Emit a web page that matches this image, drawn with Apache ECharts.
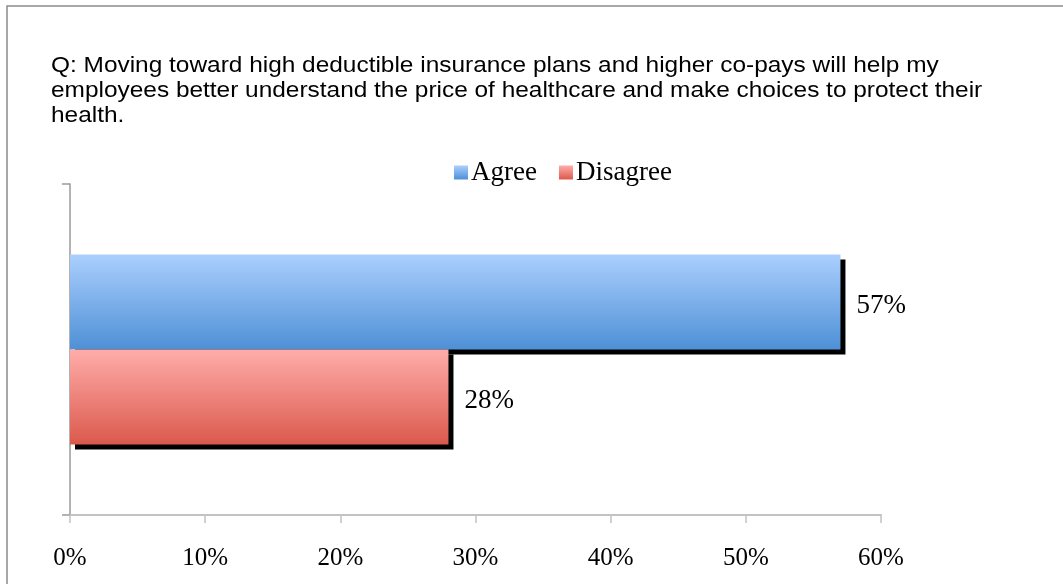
<!DOCTYPE html>
<html>
<head>
<meta charset="utf-8">
<style>
  html, body { margin: 0; padding: 0; background: #ffffff; }
  #chart { width: 1063px; height: 584px; }
</style>
<script src="https://cdn.jsdelivr.net/npm/echarts@6/dist/echarts.min.js"></script>
</head>
<body>
<div id="chart"></div>
<script>
// Survey question and answers
const questionText = 'Q: Moving toward high deductible insurance plans and higher co-pays will help my\nemployees better understand the price of healthcare and make choices to protect their\nhealth.';
const categories = ['Response'];
const seriesNames = ['Agree', 'Disagree'];
const agreeValues = [57];
const disagreeValues = [28];
const tickMax = 60;
const tickStep = 10;

const serifFont = '"Liberation Serif", "DejaVu Serif", serif';

function vGradient(top, bottom) {
  return new echarts.graphic.LinearGradient(0, 0, 0, 1, [
    { offset: 0, color: top },
    { offset: 1, color: bottom }
  ]);
}

const barLabel = {
  show: true,
  position: 'right',
  distance: 16,
  offset: [0, 4],
  formatter: '{c}%',
  color: '#000000',
  fontFamily: serifFont,
  fontSize: 27
};

const chart = echarts.init(document.getElementById('chart'), null, { renderer: 'canvas' });

chart.setOption({
  backgroundColor: '#ffffff',
  animation: false,
  legend: {
    data: seriesNames,
    left: 449,
    top: 154,
    itemWidth: 14,
    itemHeight: 14,
    itemGap: 22,
    icon: 'rect',
    textStyle: { fontFamily: serifFont, fontSize: 27, color: '#000000', padding: [0, 0, 0, -2] }
  },
  graphic: [
    {
      type: 'rect',
      shape: { x: 7, y: 6, width: 1200, height: 800 },
      style: { fill: null, stroke: '#8c8c8c', lineWidth: 1.5 },
      silent: true
    },
    {
      // question text, slightly widened sans
      type: 'text',
      x: 51,
      y: 53,
      scaleX: 1.11,
      style: {
        text: questionText,
        font: '22px "Liberation Sans", Arial, sans-serif',
        lineHeight: 25,
        fill: '#000000',
        verticalAlign: 'top',
        align: 'left'
      },
      silent: true
    }
  ],
  grid: { left: 70, right: 182, top: 184, bottom: 69, containLabel: false },
  xAxis: {
    type: 'value',
    min: 0,
    max: tickMax,
    interval: tickStep,
    axisLine: { show: true, lineStyle: { color: '#c2c2c2', width: 2 } },
    axisTick: { show: true, length: 8, lineStyle: { color: '#c2c2c2', width: 1.5 } },
    splitLine: { show: false },
    axisLabel: {
      formatter: '{value}%',
      margin: 31,
      color: '#000000',
      fontFamily: serifFont,
      fontSize: 25
    }
  },
  yAxis: {
    type: 'category',
    data: categories,
    inverse: true,
    axisLine: { show: true, onZero: false, lineStyle: { color: '#9a9a9a', width: 1.5 } },
    axisTick: { show: true, length: 8, lineStyle: { color: '#9a9a9a', width: 1.5 } },
    axisLabel: { show: false },
    splitLine: { show: false }
  },
  series: [
    {
      name: seriesNames[0],
      type: 'bar',
      data: agreeValues,
      barWidth: 95,
      barGap: '0%',
      itemStyle: {
        color: vGradient('#abcffe', '#4e90d6'),
        shadowColor: '#000000',
        shadowBlur: 0,
        shadowOffsetX: 5,
        shadowOffsetY: 5
      },
      label: barLabel
    },
    {
      name: seriesNames[1],
      type: 'bar',
      data: disagreeValues,
      barWidth: 95,
      barGap: '0%',
      itemStyle: {
        color: vGradient('#ffadaa', '#db594c'),
        shadowColor: '#000000',
        shadowBlur: 0,
        shadowOffsetX: 5,
        shadowOffsetY: 5
      },
      label: barLabel
    }
  ]
});
</script>
</body>
</html>
